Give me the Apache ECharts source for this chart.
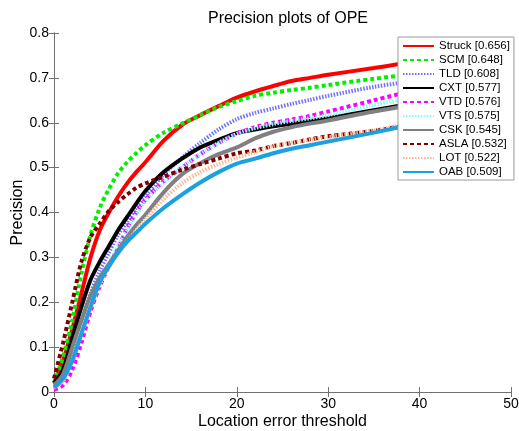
<!DOCTYPE html>
<html><head><meta charset="utf-8">
<script src="https://cdn.jsdelivr.net/npm/echarts@6/dist/echarts.min.js"></script>
<style>html,body{margin:0;padding:0;background:#fff}#c{width:519px;height:431px}</style>
</head><body><div id="c"></div>
<script>
const thresholds = [0,1,2,3,4,5,6,7,8,9,10,12,14,16,18,20,22,24,26,28,30,35,40,45,50];
const trackers = ['Struck','SCM','TLD','CXT','VTD','VTS','CSK','ASLA','LOT','OAB'];
const scores = [0.656,0.648,0.608,0.577,0.576,0.575,0.545,0.532,0.522,0.509];
const struck = [0.02,0.07,0.14,0.22,0.30,0.36,0.40,0.435,0.465,0.49,0.512,0.56,0.595,0.617,0.637,0.656,0.67,0.682,0.693,0.70,0.707,0.722,0.738,0.75,0.76];
const scm    = [0.02,0.08,0.16,0.265,0.35,0.41,0.452,0.487,0.512,0.532,0.55,0.578,0.598,0.617,0.635,0.648,0.66,0.667,0.673,0.678,0.684,0.698,0.71,0.72,0.73];
const tld    = [0.01,0.03,0.09,0.16,0.22,0.27,0.31,0.35,0.38,0.41,0.435,0.485,0.522,0.555,0.585,0.608,0.622,0.632,0.642,0.651,0.66,0.68,0.695,0.71,0.72];
const cxt    = [0.02,0.05,0.12,0.19,0.25,0.29,0.325,0.36,0.39,0.42,0.448,0.49,0.52,0.545,0.562,0.577,0.585,0.592,0.598,0.604,0.61,0.628,0.645,0.66,0.675];
const vtd    = [0.005,0.015,0.05,0.11,0.18,0.235,0.28,0.32,0.365,0.4,0.428,0.47,0.50,0.53,0.555,0.576,0.59,0.60,0.607,0.615,0.625,0.65,0.675,0.695,0.715];
const vts    = [0.01,0.025,0.07,0.13,0.19,0.24,0.285,0.325,0.36,0.395,0.425,0.467,0.50,0.53,0.555,0.575,0.588,0.597,0.604,0.61,0.617,0.64,0.66,0.685,0.705];
const csk    = [0.015,0.04,0.10,0.16,0.215,0.255,0.285,0.315,0.345,0.372,0.395,0.445,0.485,0.51,0.53,0.545,0.565,0.58,0.59,0.598,0.605,0.625,0.642,0.658,0.67];
const asla   = [0.03,0.11,0.20,0.29,0.345,0.375,0.403,0.423,0.44,0.455,0.465,0.48,0.495,0.508,0.52,0.532,0.538,0.548,0.555,0.563,0.57,0.582,0.60,0.625,0.655];
const lot    = [0.01,0.025,0.07,0.13,0.19,0.24,0.278,0.308,0.335,0.36,0.385,0.43,0.465,0.49,0.508,0.522,0.535,0.548,0.556,0.562,0.568,0.583,0.603,0.63,0.655];
const oab    = [0.01,0.03,0.07,0.13,0.19,0.245,0.28,0.31,0.335,0.355,0.375,0.41,0.44,0.467,0.49,0.509,0.52,0.532,0.542,0.55,0.558,0.578,0.60,0.62,0.64];
const seriesValues = [struck,scm,tld,cxt,vtd,vts,csk,asla,lot,oab];
const colors = ['#ff0000','#00f000','#7070ff','#000000','#ff00ff','#80ffff','#808080','#800000','#ffb890','#1ba1e2'];
const dashes = ['solid',[4,3],[1.5,1.5],'solid',[4,3],[1.5,1.5],'solid',[4,3],[1.5,1.5],'solid'];

const chart = echarts.init(document.getElementById('c'), null, {renderer:'canvas'});
const font = 'Liberation Sans, Arial, sans-serif';
const axisLine = {show:true, lineStyle:{color:'#707070', width:1}};
const series = trackers.map((name,i)=>({
  name: name + ' [' + scores[i].toFixed(3) + ']',
  type:'line', showSymbol:false, symbol:'none', smooth:0.3,
  data: thresholds.map((t,j)=>[t, seriesValues[i][j]]),
  lineStyle:{color:colors[i], width:4, type:dashes[i]},
  itemStyle:{color:colors[i]},
  xAxisIndex:0, yAxisIndex:0
}));
chart.setOption({
  animation:false,
  backgroundColor:'#fff',
  title:{text:'Precision plots of OPE', left:283, textAlign:'center', top:6,
    textStyle:{fontFamily:font, fontSize:16, fontWeight:'normal', color:'#000'}},
  grid:{left:54, right:8, top:33, bottom:39, containLabel:false, outerBoundsMode:'none'},
  legend:{orient:'vertical', left:398, top:37, padding:[2,4,1,4], itemGap:0, itemWidth:31, itemHeight:14,
    backgroundColor:'#fff', borderColor:'#999', borderWidth:1,
    itemStyle:{opacity:0},
    textStyle:{fontFamily:font, fontSize:11.5, lineHeight:14, color:'#000', padding:[0,0,0,0]},
    data: series.map(s=>({name:s.name}))},
  xAxis:[
    {type:'value', min:0, max:50, interval:10, position:'bottom',
     name:'Location error threshold', nameLocation:'middle', nameGap:22, nameMoveOverlap:false,
     nameTextStyle:{fontFamily:font, fontSize:16, color:'#000'},
     axisLine:axisLine, axisTick:{inside:true, length:5, lineStyle:{color:'#707070'}},
     axisLabel:{fontFamily:font, fontSize:14, color:'#000', margin:5},
     splitLine:{show:false}},
    {type:'value', min:0, max:50, interval:10, position:'top',
     axisLine:axisLine, axisTick:{inside:true, length:5, lineStyle:{color:'#707070'}},
     axisLabel:{show:false}, splitLine:{show:false}}
  ],
  yAxis:[
    {type:'value', min:0, max:0.8, interval:0.1, position:'left',
     name:'Precision', nameLocation:'middle', nameGap:28, nameRotate:90, nameMoveOverlap:false,
     nameTextStyle:{fontFamily:font, fontSize:16, color:'#000'},
     axisLine:axisLine, axisTick:{inside:true, length:5, lineStyle:{color:'#707070'}},
     axisLabel:{fontFamily:font, fontSize:14, color:'#000', margin:5,
       formatter:v=>v===0?'0':String(Math.round(v*10)/10)},
     splitLine:{show:false}},
    {type:'value', min:0, max:0.8, interval:0.1, position:'right',
     axisLine:axisLine, axisTick:{inside:true, length:5, lineStyle:{color:'#707070'}},
     axisLabel:{show:false}, splitLine:{show:false}}
  ],
  series: series
});
</script></body></html>
